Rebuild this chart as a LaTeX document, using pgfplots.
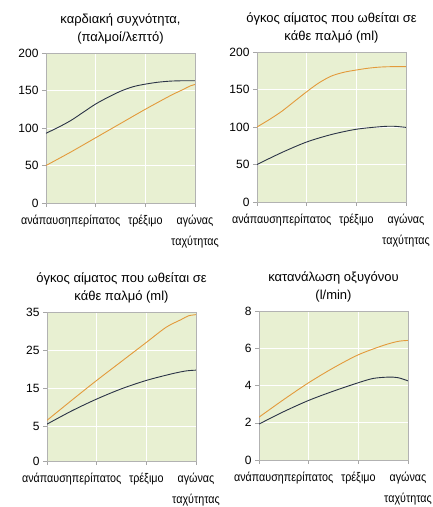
\documentclass[border=0pt]{standalone}
\usepackage{pgfplots}
\pgfplotsset{compat=1.18}
\usepackage{fontspec}
\setmainfont{Liberation Sans}
\newfontfamily\narrowfont[FakeStretch=0.86]{Liberation Sans}
\definecolor{bg}{HTML}{E8F0D2}
\definecolor{orangeline}{HTML}{E39A3B}
\definecolor{darkline}{HTML}{2B3447}
\pgfplotsset{
 panel/.style={
  scale only axis, width=149pt, height=150pt, anchor=south west,
  xmin=0, xmax=3, xtick={0,1,2,3},
  xticklabels={ανάπαυση, περίπατος, τρέξιμο, {αγώνας\\ταχύτητας}},
  xticklabel style={align=center, font=\narrowfont\fontsize{12.5}{21}\selectfont, inner sep=1pt, yshift=-7pt},
  yticklabel style={font=\fontsize{12}{14}\selectfont},
  tick align=outside, major tick length=4pt, tick style={gray!70, line width=0.5pt},
  xtick pos=bottom, ytick pos=left,
  axis background/.style={fill=bg},
  grid=major, major grid style={white, line width=0.7pt},
  axis line style={gray!60, line width=0.5pt},
  title style={align=center, font=\fontsize{13}{18}\selectfont, yshift=-1pt},
  /pgf/number format/assume math mode=true,
  every axis plot/.append style={line width=0.9pt, smooth, no markers},
 }
}
\begin{document}
\begin{tikzpicture}
\useasboundingbox (0pt,0pt) rectangle (432pt,-507pt);
% chart 1
\begin{axis}[panel, at={(46pt,-203pt)}, ymin=0, ymax=200, ytick={0,50,100,150,200},
  title={καρδιακή συχνότητα,\\(παλμοί/λεπτό)}]
\addplot[darkline] coordinates {(0,93) (0.25,101) (0.5,110) (0.75,121) (1,132) (1.25,141) (1.5,149) (1.75,155) (2,158.5) (2.25,161) (2.5,162.5) (2.75,163) (3,163)};
\addplot[orangeline] coordinates {(0,50) (0.5,68) (1,87) (1.5,106) (2,125) (2.5,143) (2.75,151) (2.9,156) (3,158)};
\end{axis}
% chart 2
\begin{axis}[panel, at={(257pt,-202pt)}, ymin=0, ymax=200, ytick={0,50,100,150,200},
  title={όγκος αίματος που ωθείται σε\\κάθε παλμό (ml)}]
\addplot[orangeline] coordinates {(0,100) (0.25,110) (0.5,121) (0.75,134) (1,147) (1.25,159) (1.5,168) (1.75,173) (2,176) (2.25,178.5) (2.5,180) (2.75,180.5) (3,180.5)};
\addplot[darkline] coordinates {(0,50) (0.5,66) (1,80) (1.5,90) (2,97) (2.5,100.5) (2.75,101) (3,99.5)};
\end{axis}
% chart 3
\begin{axis}[panel, at={(47pt,-461pt)}, height=149pt, ymin=-4.2, ymax=35, ytick={-4.2,5,15,25,35}, yticklabels={0,5,15,25,35},
  title={όγκος αίματος που ωθείται σε\\κάθε παλμό (ml)}]
\addplot[orangeline] coordinates {(0,6.5) (0.5,11.8) (1,17) (1.5,22) (2,27) (2.4,31) (2.7,33) (2.85,34) (3,34.3)};
\addplot[darkline] coordinates {(0,5.5) (0.5,9) (1,12.1) (1.5,14.8) (2,17) (2.5,18.7) (2.8,19.5) (3,19.7)};
\end{axis}
% chart 4
\begin{axis}[panel, at={(259pt,-460pt)}, height=149pt, ymin=0, ymax=8, ytick={0,2,4,6,8},
  title={κατανάλωση οξυγόνου\\(l/min)}]
\addplot[orangeline] coordinates {(0,2.3) (0.5,3.25) (1,4.15) (1.5,4.95) (2,5.65) (2.5,6.15) (2.8,6.37) (3,6.42)};
\addplot[darkline] coordinates {(0,1.93) (0.5,2.6) (1,3.2) (1.5,3.7) (2,4.15) (2.3,4.38) (2.6,4.45) (2.8,4.42) (3,4.25)};
\end{axis}
\end{tikzpicture}
\end{document}
